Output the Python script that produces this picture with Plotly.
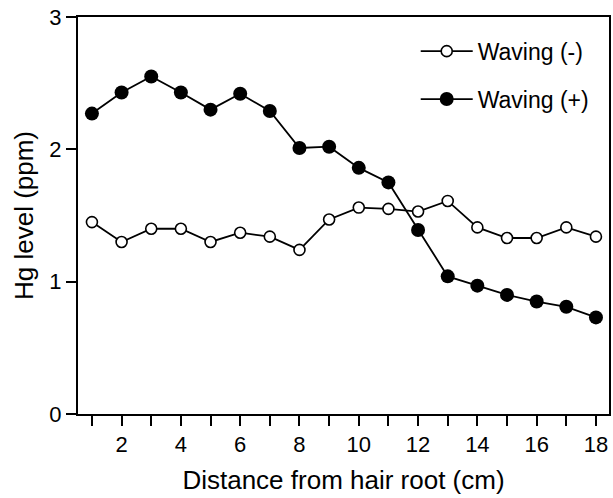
import plotly.graph_objects as go

distance_cm = list(range(1, 19))
waving_minus = [1.45, 1.30, 1.40, 1.40, 1.30, 1.37, 1.34, 1.24, 1.47, 1.56,
                1.55, 1.53, 1.61, 1.41, 1.33, 1.33, 1.41, 1.34]
waving_plus = [2.27, 2.43, 2.55, 2.43, 2.30, 2.42, 2.29, 2.01, 2.02, 1.86,
               1.75, 1.39, 1.04, 0.97, 0.90, 0.85, 0.81, 0.73]
x_tick_vals = list(range(1, 19))
x_tick_text = [str(v) if v % 2 == 0 else "" for v in x_tick_vals]
y_tick_vals = [0, 1, 2, 3]

FONT = "Liberation Sans, Arial, sans-serif"

fig = go.Figure()
fig.add_trace(go.Scatter(
    x=distance_cm, y=waving_minus, mode="lines+markers", name="Waving (-)",
    legendgroup="a",
    line=dict(color="black", width=1.8),
    marker=dict(symbol="circle", size=11, color="white",
                line=dict(color="black", width=1.6)),
))
fig.add_trace(go.Scatter(
    x=distance_cm, y=waving_plus, mode="lines+markers", name="Waving (+)",
    legendgroup="b",
    line=dict(color="black", width=1.8),
    marker=dict(symbol="circle", size=14, color="black",
                line=dict(color="black", width=0)),
))

fig.update_layout(
    width=613, height=498,
    margin=dict(l=78, r=2, t=17, b=84),
    paper_bgcolor="white", plot_bgcolor="white",
    font=dict(family=FONT, color="black"),
    showlegend=True,
    legend=dict(x=0.636, y=0.968, xanchor="left", yanchor="top",
                font=dict(size=23, family=FONT, color="black"),
                tracegroupgap=15, bgcolor="rgba(0,0,0,0)", itemwidth=52),
    xaxis=dict(
        range=[0.53, 18.44], tickmode="array", tickvals=x_tick_vals,
        ticktext=x_tick_text, ticks="outside", ticklen=10, tickwidth=1.5,
        tickcolor="black", showline=True, linecolor="black", linewidth=2,
        mirror=True, showgrid=False, zeroline=False,
        tickfont=dict(size=22, family=FONT),
        title=dict(text="Distance from hair root (cm)",
                   font=dict(size=26, family=FONT), standoff=14),
    ),
    yaxis=dict(
        range=[0, 3], tickmode="array", tickvals=y_tick_vals,
        ticks="outside", ticklen=10, tickwidth=1.5, tickcolor="black",
        showline=True, linecolor="black", linewidth=2, mirror=True,
        showgrid=False, zeroline=False,
        tickfont=dict(size=22, family=FONT),
        title=dict(text="Hg level (ppm)", font=dict(size=26, family=FONT),
                   standoff=8),
    ),
)

fig.write_html("out.html")
